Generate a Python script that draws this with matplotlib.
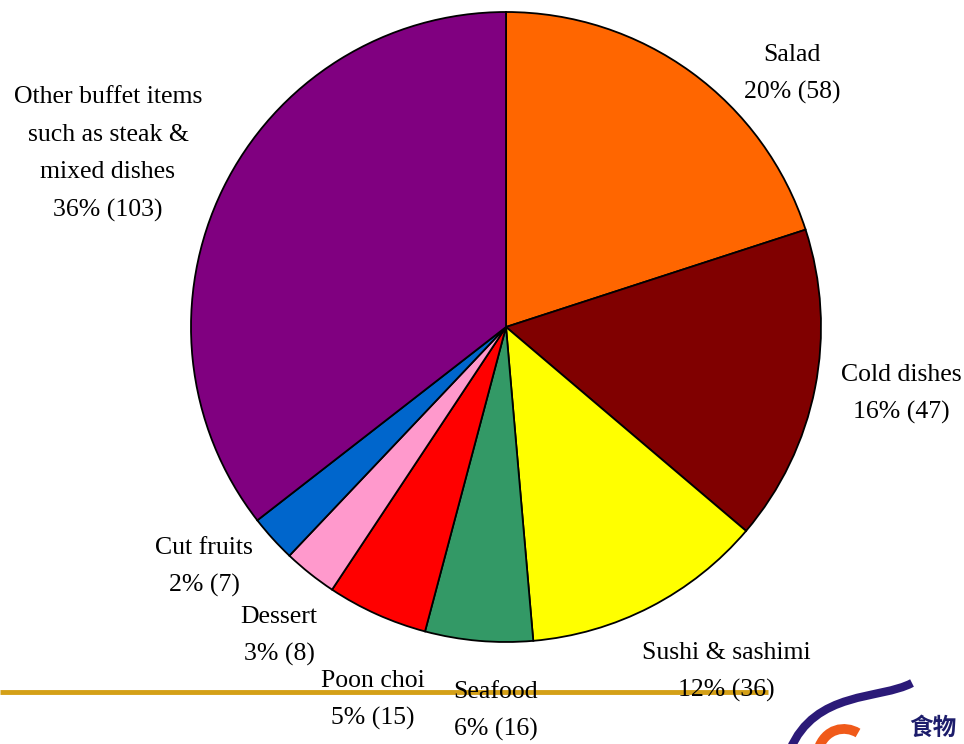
import matplotlib
matplotlib.use("Agg")
import matplotlib.pyplot as plt
from matplotlib.path import Path
from matplotlib.patches import PathPatch

# data
labels = ["Salad", "Cold dishes", "Sushi & sashimi", "Seafood", "Poon choi",
          "Dessert", "Cut fruits", "Other buffet items\nsuch as steak &\nmixed dishes"]
counts = [58, 47, 36, 16, 15, 8, 7, 103]
pcts = [20, 16, 12, 6, 5, 3, 2, 36]
colors = ["#FF6600", "#800000", "#FFFF00", "#339966", "#FF0000",
          "#FF99CC", "#0066CC", "#800080"]

# label centres in pixels (layout only)
label_px = [(792, 74), (901, 394), (726, 672), (496, 711), (373, 700),
            (279, 636), (204, 567), (108, 154)]

W, H = 964, 744
cx, cy, R = 506, 327, 315


def px2d(x, y):
    return (x - cx) / R, (cy - y) / R


fig = plt.figure(figsize=(W / 100, H / 100), dpi=100)
ax = fig.add_axes([0, 0, 1, 1])
ax.pie(counts, colors=colors, startangle=90, counterclock=False,
       wedgeprops=dict(edgecolor="black", linewidth=1.3))
ax.set_xlim(-cx / R, (W - cx) / R)
ax.set_ylim(-(H - cy) / R, cy / R)
ax.set_aspect("equal")
ax.axis("off")

# gold rule line at the bottom
x0, y0 = px2d(0, 692)
x1, _ = px2d(768, 692)
ax.plot([x0, x1], [y0, y0], color="#D4A017", lw=3.5, zorder=1,
        solid_capstyle="butt")

for lab, c, p, (lx, ly) in zip(labels, counts, pcts, label_px):
    tx, ty = px2d(lx, ly)
    ax.text(tx, ty, f"{lab}\n{p}% ({c})", ha="center", va="center",
            family="Liberation Serif", fontsize=18.5, linespacing=1.9,
            color="black", zorder=3)

# logo fragment, bottom right
pts = [px2d(790, 750), px2d(815, 690), px2d(880, 700), px2d(912, 683)]
swoosh = Path(pts, [Path.MOVETO, Path.CURVE4, Path.CURVE4, Path.CURVE4])
ax.add_patch(PathPatch(swoosh, fill=False, edgecolor="#2B1A78", lw=6,
                       zorder=2))
o = [px2d(818, 750), px2d(825, 728), px2d(845, 725), px2d(858, 733)]
ax.add_patch(PathPatch(Path(o, [Path.MOVETO, Path.CURVE4, Path.CURVE4,
                                Path.CURVE4]),
                       fill=False, edgecolor="#F05A1A", lw=7, zorder=2))
tx, ty = px2d(933, 728)
ax.text(tx, ty, "食物", ha="center", va="center", fontsize=17,
        family=["Noto Sans CJK TC", "DejaVu Sans"], color="#1C1C6B",
        fontweight="bold", zorder=3)

fig.savefig("out.png", dpi=100)
